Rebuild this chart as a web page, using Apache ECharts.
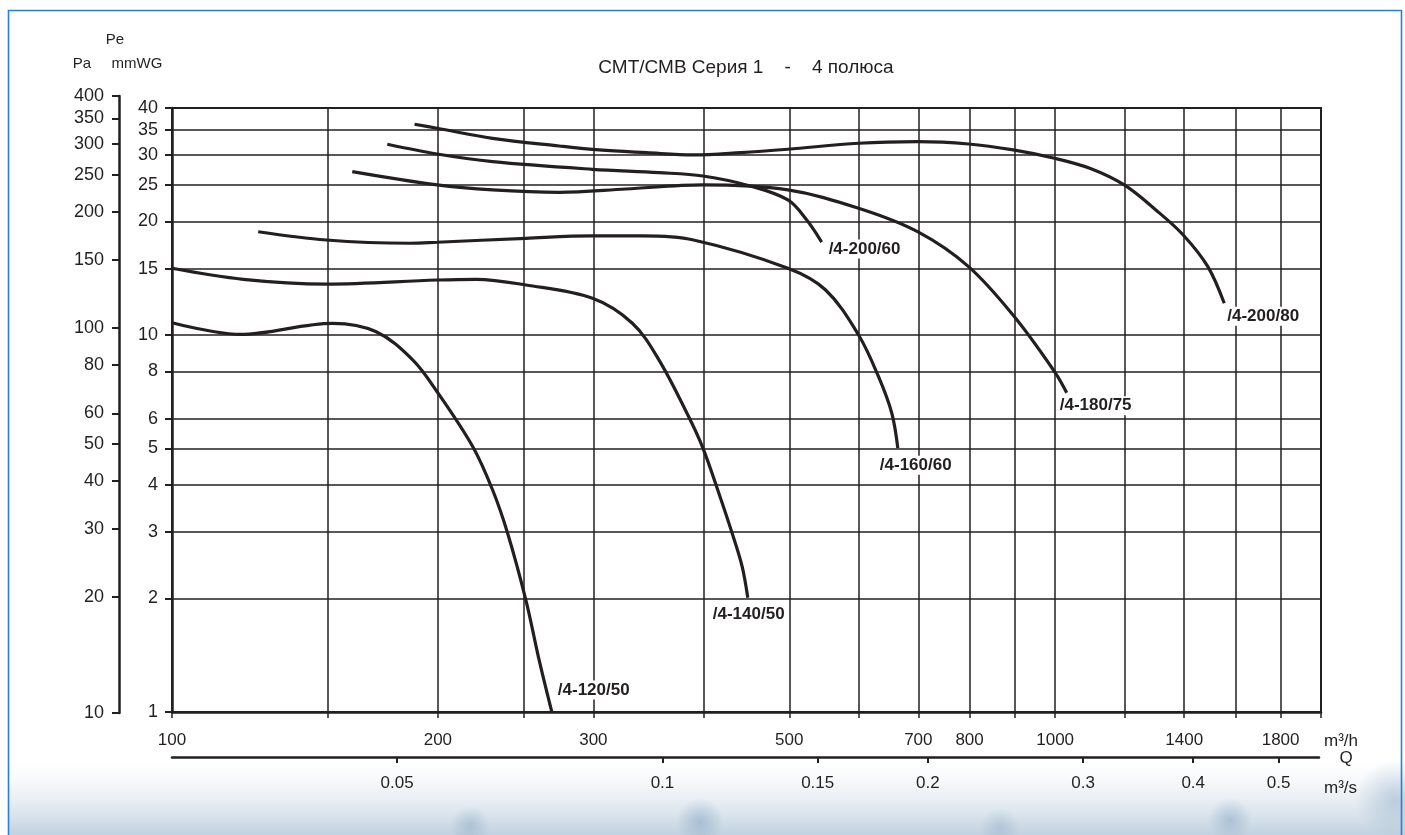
<!DOCTYPE html>
<html>
<head>
<meta charset="utf-8">
<title>СМТ/СМВ Серия 1 - 4 полюса</title>
<script src="https://cdn.jsdelivr.net/npm/echarts@6/dist/echarts.min.js"></script>
<style>
  html, body { margin: 0; padding: 0; background: #ffffff; }
  #chart { width: 1405px; height: 835px; }
</style>
</head>
<body>
<div id="chart"></div>
<script>
// ---- axis ticks ----
const pressureTicks = [1, 2, 3, 4, 5, 6, 8, 10, 15, 20, 25, 30, 35, 40];          // mmWG
const pascalTicks   = [10, 20, 30, 40, 50, 60, 80, 100, 150, 200, 250, 300, 350, 400]; // Pa
const flowGrid      = [100, 150, 200, 250, 300, 400, 500, 600, 700, 800, 900, 1000, 1200, 1400, 1600, 1800, 2000]; // m3/h
const flowLabels    = [100, 200, 300, 500, 700, 800, 1000, 1400, 1800];           // m3/h
const flowSecTicks  = [0.05, 0.1, 0.15, 0.2, 0.3, 0.4, 0.5];                      // m3/s

// ---- fan curves: flow Q (m3/h) and static pressure Pe (mmWG) ----
const q_120_50 = [100, 119.4, 152.1, 170.3, 187.3, 199.6, 219.0, 230.7, 239.9, 251.6, 260.5, 269.2];
const p_120_50 = [10.78, 10.04, 10.74, 10.2, 8.59, 7.07, 5.06, 3.88, 2.98, 1.98, 1.37, 1.0];

const q_140_50 = [100, 120.4, 149.5, 199.6, 221.0, 251.6, 299.3, 332.1, 355.9, 384.9, 399.2, 416.2, 430.8, 442.2, 448.7];
const p_140_50 = [15.03, 14.05, 13.65, 13.99, 14.05, 13.57, 12.51, 10.74, 8.59, 6.05, 5.01, 3.8, 2.98, 2.43, 2.01];

const q_160_60 = [125.2, 149.5, 185.7, 199.6, 251.6, 299.3, 340.8, 389.5, 498.2, 549.7, 599.0, 631.0, 653.2, 663.5];
const p_160_60 = [18.79, 17.86, 17.51, 17.62, 18.05, 18.31, 18.31, 17.86, 15.03, 13.16, 10.0, 7.75, 6.2, 5.01];

const q_180_75 = [160.0, 199.6, 230.7, 274.4, 326.5, 399.2, 498.2, 599.0, 698.6, 797.9, 898.8, 1000, 1030.6];
const p_180_75 = [27.12, 25.0, 24.25, 23.9, 24.39, 25.0, 24.25, 21.68, 18.79, 15.18, 11.19, 7.95, 7.03];

const q_200_60 = [175.3, 199.6, 230.7, 299.3, 355.9, 399.2, 451.6, 498.2, 523.3, 544.0];
const p_200_60 = [32.05, 30.2, 28.82, 27.51, 26.95, 26.41, 24.85, 22.81, 20.18, 17.64];

const q_200_80 = [188.2, 199.6, 230.7, 274.4, 304.6, 344.4, 389.5, 440.5, 498.2, 599.0, 698.6, 797.9, 896.4, 998.2, 1094.5, 1197.4, 1300.2, 1396.4, 1489.0, 1554.1];
const p_200_80 = [36.22, 35.35, 33.24, 31.72, 30.96, 30.45, 30.03, 30.45, 31.09, 32.25, 32.57, 32.11, 30.96, 29.43, 27.68, 25.0, 21.46, 18.42, 15.18, 12.14];

const curveNames = ['/4-120/50', '/4-140/50', '/4-160/60', '/4-180/75', '/4-200/60', '/4-200/80'];
const curveFlows = [q_120_50, q_140_50, q_160_60, q_180_75, q_200_60, q_200_80];
const curvePressures = [p_120_50, p_140_50, p_160_60, p_180_75, p_200_60, p_200_80];

// label placement next to the end of each curve
const labelOffsets = [[5, -22], [-36, 17], [-19, 17], [-8, 13], [6, 7], [2, 13]];

const INK = '#231f20';
const FONT = '"Liberation Sans", Arial, Helvetica, sans-serif';

const chart = echarts.init(document.getElementById('chart'), null, { renderer: 'canvas' });

const series = curveNames.map(function (name, i) {
  const q = curveFlows[i], p = curvePressures[i];
  return {
    name: name,
    type: 'line',
    xAxisIndex: 0,
    yAxisIndex: 0,
    data: q.map(function (v, k) { return [v, p[k]]; }),
    showSymbol: false,
    smooth: 0.35,
    clip: true,
    z: 5,
    lineStyle: { color: INK, width: 3.2 },
    endLabel: {
      show: true,
      formatter: name,
      distance: 0,
      offset: labelOffsets[i],
      align: 'left',
      verticalAlign: 'middle',
      color: INK,
      fontFamily: FONT,
      fontSize: 17,
      fontWeight: 'bold',
      backgroundColor: '#ffffff',
      padding: [1, 1, 1, 1]
    }
  };
});

function haze(cx, cy, rx, ry, rgb, a) {
  return {
    type: 'ellipse', silent: true, z: -9, shape: { cx: cx, cy: cy, rx: rx, ry: ry },
    style: { fill: new echarts.graphic.RadialGradient(0.5, 0.5, 0.5, [
      { offset: 0, color: 'rgba(' + rgb + ',' + a + ')' }, { offset: 1, color: 'rgba(' + rgb + ',0)' }]) }
  };
}

const option = {
  animation: false,
  backgroundColor: '#ffffff',
  textStyle: { fontFamily: FONT, color: INK },
  grid: [
    { left: 172, top: 108, width: 1149, height: 604, show: true, borderColor: INK, borderWidth: 2, backgroundColor: 'transparent', z: 3 },
    { left: 119, top: 96, width: 1, height: 617, show: false },
    { left: 172, top: 756, width: 1147, height: 1, show: false }
  ],
  xAxis: [
    {
      gridIndex: 0, type: 'log', logBase: 10, min: 100, max: 2000,
      axisLine: { show: true, onZero: false, lineStyle: { color: INK, width: 2.5 } },
      axisTick: { show: true, customValues: flowGrid, length: 6, lineStyle: { color: INK, width: 1.5 } },
      minorTick: { show: false },
      splitLine: { show: true, lineStyle: { color: INK, width: 1.5 } },
      axisLabel: {
        customValues: flowLabels, margin: 20, fontSize: 17, color: INK, fontFamily: FONT,
        formatter: function (v) { return String(Math.round(v)); }
      }
    },
    { gridIndex: 1, type: 'value', show: false, min: 0, max: 1 },
    {
      gridIndex: 2, type: 'log', logBase: 10, min: 100 / 3600, max: 2000 / 3600,
      position: 'bottom',
      axisLine: { show: true, onZero: false, lineStyle: { color: INK, width: 2.5 } },
      axisTick: { show: true, customValues: flowSecTicks, length: 6, lineStyle: { color: INK, width: 2 } },
      minorTick: { show: false },
      splitLine: { show: false },
      axisLabel: {
        customValues: flowSecTicks, margin: 18, fontSize: 17, color: INK, fontFamily: FONT,
        formatter: function (v) { return String(Math.round(v * 100) / 100); }
      }
    }
  ],
  yAxis: [
    {
      gridIndex: 0, type: 'log', logBase: 10, min: 1, max: 40,
      axisLine: { show: true, onZero: false, lineStyle: { color: INK, width: 2.5 } },
      axisTick: { show: true, customValues: pressureTicks, length: 7, lineStyle: { color: INK, width: 2 } },
      minorTick: { show: false },
      splitLine: { show: true, lineStyle: { color: INK, width: 1.5 } },
      axisLabel: { customValues: pressureTicks, margin: 14, fontSize: 18, color: INK, fontFamily: FONT }
    },
    {
      gridIndex: 1, type: 'log', logBase: 10, min: 10, max: 400, position: 'left',
      axisLine: { show: true, onZero: false, lineStyle: { color: INK, width: 2.5 } },
      axisTick: { show: true, customValues: pascalTicks, length: 7, lineStyle: { color: INK, width: 2 } },
      minorTick: { show: false },
      splitLine: { show: false },
      axisLabel: { customValues: pascalTicks, margin: 15, fontSize: 18, color: INK, fontFamily: FONT }
    },
    { gridIndex: 2, type: 'value', show: false, min: 0, max: 1 }
  ],
  graphic: [
    // soft bluish band along the bottom
    {
      type: 'rect', silent: true, z: -10,
      shape: { x: 9, y: 752, width: 1396, height: 83 },
      style: {
        fill: new echarts.graphic.LinearGradient(0, 0, 0, 1, [
          { offset: 0, color: 'rgba(255,255,255,0)' },
          { offset: 0.45, color: 'rgba(222,231,239,0.45)' },
          { offset: 1, color: 'rgba(172,194,212,0.75)' }
        ])
      }
    },
    haze(470, 826, 120, 20, '150,178,202', 0.6),
    haze(700, 822, 130, 24, '140,170,198', 0.6),
    haze(1000, 828, 140, 20, '150,178,202', 0.5),
    haze(1230, 820, 130, 22, '140,170,198', 0.55),
    haze(1395, 800, 45, 40, '150,178,202', 0.55),
    // blue frame
    {
      type: 'rect', silent: true, z: 20,
      shape: { x: 8.5, y: 10.5, width: 1393, height: 900 },
      style: { fill: 'none', stroke: '#2b7fd0', lineWidth: 1.6 }
    },
    // title
    {
      type: 'text', x: 746, y: 68, z: 10,
      style: { text: 'СМТ/СМВ Серия 1    -    4 полюса', fill: INK, font: '19px ' + FONT, textAlign: 'center', textVerticalAlign: 'middle' }
    },
    // axis captions
    { type: 'text', x: 115, y: 40, z: 10, style: { text: 'Pe', fill: INK, font: '15px ' + FONT, textAlign: 'center', textVerticalAlign: 'middle' } },
    { type: 'text', x: 82, y: 64, z: 10, style: { text: 'Pa', fill: INK, font: '15px ' + FONT, textAlign: 'center', textVerticalAlign: 'middle' } },
    { type: 'text', x: 137, y: 64, z: 10, style: { text: 'mmWG', fill: INK, font: '15px ' + FONT, textAlign: 'center', textVerticalAlign: 'middle' } },
    // flow units
    { type: 'text', x: 1324, y: 741, z: 10, style: { text: 'm³/h', fill: INK, font: '17px ' + FONT, textAlign: 'left', textVerticalAlign: 'middle' } },
    { type: 'text', x: 1346, y: 758, z: 10, style: { text: 'Q', fill: INK, font: '17px ' + FONT, textAlign: 'center', textVerticalAlign: 'middle' } },
    { type: 'text', x: 1324, y: 788, z: 10, style: { text: 'm³/s', fill: INK, font: '17px ' + FONT, textAlign: 'left', textVerticalAlign: 'middle' } }
  ],
  series: series
};

chart.setOption(option);
</script>
</body>
</html>
